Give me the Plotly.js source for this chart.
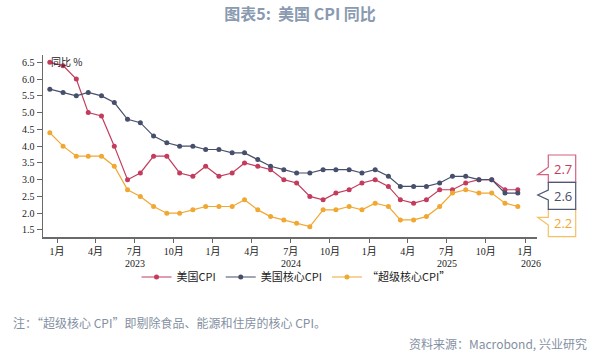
<!DOCTYPE html>
<html>
<head>
<meta charset="utf-8">
<script src="https://cdn.plot.ly/plotly-3.0.1.min.js"></script>
<style>html,body{margin:0;padding:0;background:#fff;}#chart{width:604px;height:352px;}</style>
</head>
<body>
<div id="chart"></div>
<script>
// Months (data observed monthly, Dec 2022 – Dec 2025)
const months = [
  '2022-12',
  '2023-01','2023-02','2023-03','2023-04','2023-05','2023-06','2023-07','2023-08','2023-09','2023-10','2023-11','2023-12',
  '2024-01','2024-02','2024-03','2024-04','2024-05','2024-06','2024-07','2024-08','2024-09','2024-10','2024-11','2024-12',
  '2025-01','2025-02','2025-03','2025-04','2025-05','2025-06','2025-07','2025-08','2025-09','2025-10','2025-11','2025-12'
];
const seriesNames = ['美国CPI', '美国核心CPI', '“超级核心CPI”'];
const cpi = [6.5,
  6.4,6.0,5.0,4.9,4.0,3.0,3.2,3.7,3.7,3.2,3.1,3.4,
  3.1,3.2,3.5,3.4,3.3,3.0,2.9,2.5,2.4,2.6,2.7,2.9,
  3.0,2.8,2.4,2.3,2.4,2.7,2.7,2.9,3.0,3.0,2.7,2.7];
const coreCpi = [5.7,
  5.6,5.5,5.6,5.5,5.3,4.8,4.7,4.3,4.1,4.0,4.0,3.9,
  3.9,3.8,3.8,3.6,3.4,3.3,3.2,3.2,3.3,3.3,3.3,3.2,
  3.3,3.1,2.8,2.8,2.8,2.9,3.1,3.1,3.0,3.0,2.6,2.6];
const superCore = [4.4,
  4.0,3.7,3.7,3.7,3.4,2.7,2.5,2.2,2.0,2.0,2.1,2.2,
  2.2,2.2,2.4,2.1,1.9,1.8,1.7,1.6,2.1,2.1,2.2,2.1,
  2.3,2.2,1.8,1.8,1.9,2.2,2.6,2.7,2.6,2.6,2.3,2.2];
const tickDates = ['2023-01-01','2023-04-01','2023-07-01','2023-10-01',
  '2024-01-01','2024-04-01','2024-07-01','2024-10-01',
  '2025-01-01','2025-04-01','2025-07-01','2025-10-01','2026-01-01'];
const tickLabels = ['1月','4月','7月','10月','1月','4月','7月','10月','1月','4月','7月','10月','1月'];
const years = ['2023','2024','2025','2026'];

const colors = ['#c33b5d', '#464f6b', '#f0a832'];
const boxColors = ['#d4617d', '#4e5775', '#f4c064'];

const xRange = ['2022-11-29', '2026-01-29'];
const M = {l: 43, r: 67, t: 55, b: 115};
const W = 604, H = 352;
const pw = W - M.l - M.r, ph = H - M.t - M.b;
const px = x => (x - M.l) / pw;
const py = y => (H - M.b - y) / ph;

const xs = months.map(m => m + '-15');
const data = [cpi, coreCpi, superCore].map((v, i) => ({
  type: 'scatter', mode: 'lines+markers', name: seriesNames[i],
  x: xs, y: v,
  line: {color: colors[i], width: 1.2},
  marker: {color: colors[i], size: 5}
}));

const cjk = '"Noto Sans CJK SC", "Noto Sans", sans-serif';
const tickFont = '"Liberation Serif", "Noto Sans CJK SC", serif';

// year labels centred on the visible part of each year
const t0 = Date.parse(xRange[0]), t1 = Date.parse(xRange[1]);
const annotations = years.map(yr => {
  const a = Math.max(Date.parse(yr + '-01-01'), t0);
  const b = Math.min(Date.parse((+yr + 1) + '-01-01'), t1);
  const mid = new Date((a + b) / 2).toISOString().slice(0, 10);
  return {xref: 'x', yref: 'paper', x: mid, y: 0, yanchor: 'middle', yshift: -26,
    text: yr, showarrow: false, font: {family: tickFont, size: 10, color: '#222'}};
});
annotations.push({xref: 'paper', yref: 'paper', x: px(49), y: py(62), xanchor: 'left', yanchor: 'middle',
  text: '同比 %', showarrow: false, font: {family: cjk, size: 10, color: '#222'}});
annotations.push({xref: 'paper', yref: 'paper', x: px(11), y: py(322), xanchor: 'left', yanchor: 'middle',
  text: '注：“超级核心 CPI”即剔除食品、能源和住房的核心 CPI。', showarrow: false,
  font: {family: cjk, size: 12, color: '#8490a2'}});
annotations.push({xref: 'paper', yref: 'paper', x: px(589), y: py(343), xanchor: 'right', yanchor: 'middle',
  text: '资料来源：Macrobond, 兴业研究', showarrow: false,
  font: {family: cjk, size: 12, color: '#8490a2'}});

// end-value callout boxes
const lastVals = [cpi, coreCpi, superCore].map(v => v[v.length - 1]);
const boxL = 548.3, boxR = 575.7, tipX = 537.7;
const boxTops = [155, 182.3, 209.3], boxH = 27.3;
const path = pts => 'M ' + pts.map(p => px(p[0]) + ',' + py(p[1])).join(' L ') + ' Z';
const boxPaths = [
  path([[boxL,155],[boxR,155],[boxR,182.3],[boxL,182.3],[boxL,174.7],[tipX,174.7],[boxL,167.3]]),
  path([[boxL,182.3],[boxR,182.3],[boxR,209.3],[boxL,209.3],[boxL,200],[tipX,195],[boxL,190]]),
  path([[boxL,209.3],[boxR,209.3],[boxR,236.7],[boxL,236.7],[boxL,225],[tipX,217.3],[boxL,217.3]])
];
const shapes = [0, 2, 1].map(i => ({type: 'path', xref: 'paper', yref: 'paper', path: boxPaths[i],
  line: {color: boxColors[i], width: 1.2}, fillcolor: '#ffffff', layer: 'above'}));
lastVals.forEach((v, i) => annotations.push({xref: 'paper', yref: 'paper',
  x: px((boxL + boxR) / 2 + 1), y: py(boxTops[i] + boxH / 2), xanchor: 'center', yanchor: 'middle',
  text: v.toFixed(1), showarrow: false, font: {family: '"Open Sans", sans-serif', size: 13, color: colors[i]}}));

const layout = {
  width: W, height: H, margin: M,
  paper_bgcolor: '#fff', plot_bgcolor: '#fff',
  title: {text: '图表5:  美国 CPI 同比', x: 300 / W, xref: 'container', xanchor: 'center',
    y: 1 - 14 / H, yref: 'container', yanchor: 'middle',
    font: {family: cjk, size: 16, color: '#8a9ab0', weight: 'bold'}},
  showlegend: true,
  legend: {orientation: 'h', x: px(296), xanchor: 'center', y: py(277), yanchor: 'middle',
    font: {family: cjk, size: 11, color: '#222'}, itemwidth: 30, tracegroupgap: 0, bgcolor: 'rgba(0,0,0,0)'},
  xaxis: {type: 'date', range: xRange, showgrid: false, zeroline: false,
    tickmode: 'array', tickvals: tickDates, ticktext: tickLabels,
    ticks: 'outside', ticklen: 4, tickcolor: '#666', tickwidth: 1,
    showline: true, linecolor: '#6a6a6a', linewidth: 1.5,
    tickfont: {family: tickFont, size: 10, color: '#222'}},
  yaxis: {range: [1.291, 6.718], showgrid: false, zeroline: false,
    tickmode: 'linear', tick0: 1.5, dtick: 0.5, tickformat: '.1f',
    ticks: 'outside', ticklen: 5, tickcolor: '#666', tickwidth: 1,
    showline: true, linecolor: '#6a6a6a', linewidth: 1.5,
    tickfont: {family: tickFont, size: 10, color: '#222'}},
  annotations: annotations,
  shapes: shapes
};
Plotly.newPlot('chart', data, layout, {displayModeBar: false, staticPlot: true});
</script>
</body>
</html>
